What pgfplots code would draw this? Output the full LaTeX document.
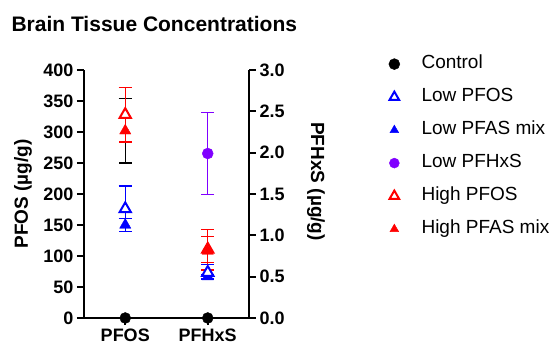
\documentclass[border=0pt]{standalone}
\usepackage{fontspec}
\setmainfont{Liberation Sans}
\usepackage{pgfplots}
\pgfplotsset{compat=1.18}

\definecolor{lowblue}{RGB}{0,0,255}
\definecolor{highred}{RGB}{255,0,0}
\definecolor{pfhxsviolet}{RGB}{128,0,255}

\pgfplotsset{
  brainaxis/.style={
    scale only axis, width=165bp, height=248bp,
    xmin=-0.5, xmax=1.5, clip=false,
    axis line style={line width=2bp},
    major tick style={line width=2bp, black},
    major tick length=7bp,
    tick align=outside,
    /pgf/number format/assume math mode=true,
    ticklabel style={font=\fontsize{18bp}{20bp}\selectfont\bfseries},
    label style={font=\fontsize{19bp}{22bp}\selectfont\bfseries},
    error bars/y dir=both, error bars/y explicit,
  },
  % error bars in a given colour, with horizontal caps
  ebar/.style={
    error bars/error bar style={#1, line width=1.2bp},
    error bars/error mark options={#1, rotate=90, line width=1.2bp, mark size=6.5bp},
  },
  ctrl/.style={only marks, mark=*, black, mark size=5.5bp, ebar=black},
  lowpfos/.style={only marks, lowblue, mark=triangle*, mark size=6.5bp,
    mark options={fill=white, draw=lowblue, line width=2bp}, ebar=lowblue},
  lowmix/.style={only marks, lowblue, mark=triangle*, mark size=6.5bp,
    mark options={fill=lowblue, draw=lowblue, line width=0.4bp}, ebar=lowblue},
  lowpfhxs/.style={only marks, pfhxsviolet, mark=*, mark size=5.5bp,
    mark options={fill=pfhxsviolet, draw=pfhxsviolet}, ebar=pfhxsviolet},
  highpfos/.style={only marks, highred, mark=triangle*, mark size=6.5bp,
    mark options={fill=white, draw=highred, line width=2bp}, ebar=highred},
  highmix/.style={only marks, highred, mark=triangle*, mark size=6.5bp,
    mark options={fill=highred, draw=highred, line width=0.4bp}, ebar=highred},
}

\begin{document}
\begin{tikzpicture}
\useasboundingbox (-84bp,-29bp) rectangle (476bp,318bp);

% PFOS concentrations (left axis)
\begin{axis}[brainaxis,
  ymin=0, ymax=400, ytick={0,50,...,400},
  axis x line*=bottom, axis y line*=left,
  xtick={0,1}, xticklabels={PFOS,PFHxS},
  ylabel={PFOS (µg/g)},
  ylabel style={at={(axis description cs:-0.37,0.5)}, anchor=center},
]
\addplot[ctrl] coordinates {(0,0)};
\addplot[lowmix] coordinates {(0,150) +- (0,10)};
\addplot[lowpfos] coordinates {(0,176) +- (0,37)};
\addplot[highmix, ebar=black] coordinates {(0,302) +- (0,52)};
\addplot[highpfos] coordinates {(0,328) +- (0,44)};
\end{axis}

% PFHxS concentrations (right axis)
\begin{axis}[brainaxis,
  ymin=0, ymax=3, ytick={0,0.5,...,3},
  axis y line*=right, axis x line=none,
  yticklabel style={/pgf/number format/.cd, fixed, fixed zerofill, precision=1},
  ylabel={PFHxS (µg/g)},
  ylabel style={at={(axis description cs:1.406,0.55)}, anchor=center, rotate=180},
  legend style={draw=none, fill=none, at={(1.824,1.079)}, anchor=north west,
    font=\fontsize{19bp}{22bp}\selectfont, row sep=10bp,
    nodes={text height=14bp, text depth=5bp, inner sep=2bp}},
  legend cell align=left,
  legend image code/.code={\path (-6bp,0bp) (25bp,0bp);
    \draw[#1] plot coordinates {(0bp,0bp)};},
]
\addplot[ctrl, forget plot] coordinates {(1,0)};
\addplot[lowmix, forget plot] coordinates {(1,0.50) +- (0,0.03)};
\addplot[lowpfos, forget plot] coordinates {(1,0.55) += (0,0.10) -= (0,0.07)};
\addplot[lowpfhxs, forget plot] coordinates {(1,1.99) +- (0,0.50)};
\addplot[highpfos, forget plot] coordinates {(1,0.83) +- (0,0.16)};
\addplot[highmix, forget plot] coordinates {(1,0.81) += (0,0.26) -= (0,0.23)};

\addlegendimage{ctrl, mark size=5.5bp}
\addlegendentry{Control}
\addlegendimage{lowpfos, mark size=5.5bp}
\addlegendentry{Low PFOS}
\addlegendimage{lowmix, mark size=5bp}
\addlegendentry{Low PFAS mix}
\addlegendimage{lowpfhxs, mark size=5bp}
\addlegendentry{Low PFHxS}
\addlegendimage{highpfos, mark size=5.5bp}
\addlegendentry{High PFOS}
\addlegendimage{highmix, mark size=5bp}
\addlegendentry{High PFAS mix}

\node[anchor=base west, font=\fontsize{21bp}{24bp}\selectfont\bfseries]
  at (rel axis cs:-0.4606,1.157) {Brain Tissue Concentrations};
\end{axis}
\end{tikzpicture}
\end{document}
